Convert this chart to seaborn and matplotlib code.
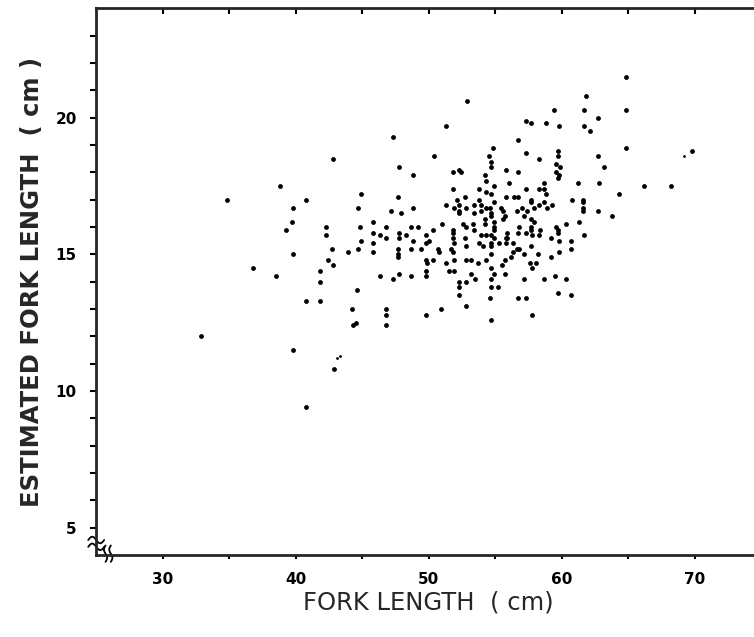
import matplotlib
matplotlib.use("Agg")
import matplotlib.pyplot as plt
import numpy as np
import seaborn as sns

# fork length (cm) vs estimated fork length (cm)
fork_length = [
    52.9, 51.3, 47.3, 42.8, 50.4, 47.8, 48.8, 54.8, 56.7, 54.5, 54.7, 54.7, 55.8, 56.7,
    52.3, 51.8, 52.4, 54.2, 54.3, 56.0, 54.9, 53.8, 54.3, 51.8, 54.7, 44.9, 52.7, 47.7,
    40.8, 55.8, 56.4, 56.7, 53.8, 52.1, 38.8, 34.8,
    64.8, 61.8, 59.4, 61.7, 64.8, 62.7, 57.3, 57.7, 58.8, 59.8, 61.7, 62.1, 57.3, 58.3,
    59.7, 59.7, 59.6, 59.9, 59.6, 59.8, 59.7, 62.7, 63.2, 64.8, 57.3, 58.3, 58.7, 58.7,
    58.8, 61.2, 62.8, 64.3, 66.2, 68.2, 69.8, 60.8, 61.6, 57.7,
    39.8, 39.7, 39.3, 39.8, 36.8, 38.5, 40.8, 32.9, 39.8,
    44.7, 47.2, 47.9, 48.8, 51.3, 51.9, 52.3, 52.3, 52.3, 52.8, 53.4, 53.4, 53.9, 53.9,
    54.3, 54.6, 54.7, 54.7, 54.9, 55.4, 55.6, 55.7, 55.6, 56.6, 54.2, 54.2, 54.9, 54.9,
    54.9, 42.3, 42.3, 44.8, 45.8, 46.8, 48.7, 49.2, 51.0, 51.8, 51.8, 51.8, 52.6, 52.8,
    53.3, 53.4, 53.9, 54.3, 54.7, 54.9, 55.9, 55.9, 56.7, 45.8, 46.3, 46.8, 47.8, 47.8,
    48.3, 48.8, 49.8, 50.3, 49.8, 50.0, 44.9, 42.7, 43.9, 44.7, 45.8, 45.8, 47.7, 47.7,
    47.7, 48.7, 49.4, 50.7, 50.8, 51.7, 51.8, 51.9, 51.9, 52.7, 52.8, 53.8, 54.1, 54.7,
    54.7, 54.7, 55.3, 55.8, 55.8, 56.3, 56.3, 56.6, 42.4, 42.8, 49.8, 49.9, 50.3, 51.3,
    52.8, 53.2, 53.7, 54.3, 54.7, 54.9, 55.5, 55.7, 55.7, 41.8, 41.8, 46.3, 47.3, 47.8,
    48.7, 49.8, 49.8, 51.5, 51.9, 52.3, 52.3, 52.3, 52.8, 53.2, 53.5, 54.7, 54.7, 55.2,
    54.6, 56.7, 44.6, 41.8, 44.2, 46.8, 46.8, 46.8, 44.5, 44.3, 49.8, 50.9, 52.8, 54.7,
    42.9,
    61.6, 61.6, 61.6, 62.7, 63.8, 57.0, 57.4, 57.7, 57.9, 58.3, 58.7, 58.9, 59.3, 57.2,
    57.7, 57.9, 56.8, 57.7, 57.7, 57.8, 58.4, 58.3, 59.6, 59.7, 59.7, 60.3, 61.3, 61.7,
    57.3, 56.8, 57.7, 57.2, 58.2, 59.2, 59.8, 60.7, 59.8, 60.7, 59.2, 56.2, 57.6, 58.1,
    57.8, 57.2, 58.7, 59.5, 60.3, 59.7, 60.7, 57.3, 57.8,
    40.8,
]
est_fork_length = [
    20.6, 19.7, 19.3, 18.5, 18.6, 18.2, 17.9, 18.9, 19.2, 18.6, 18.4, 18.2, 18.1, 18.0,
    18.1, 18.0, 18.0, 17.9, 17.7, 17.6, 17.5, 17.4, 17.3, 17.4, 17.2, 17.2, 17.1, 17.1,
    17.0, 17.1, 17.1, 17.1, 17.0, 17.0, 17.5, 17.0,
    21.5, 20.8, 20.3, 20.3, 20.3, 20.0, 19.9, 19.8, 19.8, 19.7, 19.7, 19.5, 18.7, 18.5,
    18.8, 18.6, 18.3, 18.2, 18.0, 17.9, 17.8, 18.6, 18.2, 18.9, 17.4, 17.4, 17.6, 17.4,
    17.2, 17.6, 17.6, 17.2, 17.5, 17.5, 18.8, 17.0, 17.0, 17.0,
    16.7, 16.2, 15.9, 15.0, 14.5, 14.2, 13.3, 12.0, 11.5,
    16.7, 16.6, 16.5, 16.7, 16.8, 16.7, 16.8, 16.6, 16.5, 16.7, 16.8, 16.5, 16.8, 16.6,
    16.7, 16.7, 16.5, 16.4, 16.9, 16.7, 16.6, 16.4, 16.3, 16.6, 16.3, 16.1, 16.2, 16.0,
    15.9, 16.0, 15.7, 16.0, 16.2, 16.0, 16.0, 16.0, 16.1, 15.9, 15.8, 15.6, 16.1, 16.0,
    16.1, 15.9, 15.7, 15.7, 15.7, 15.6, 15.8, 15.6, 15.8, 15.8, 15.7, 15.6, 15.8, 15.6,
    15.7, 15.5, 15.7, 15.9, 15.4, 15.5, 15.5, 15.2, 15.1, 15.2, 15.4, 15.1, 15.2, 15.0,
    14.9, 15.2, 15.2, 15.2, 15.1, 15.2, 15.1, 14.8, 15.4, 15.6, 15.3, 15.4, 15.3, 15.4,
    15.3, 15.0, 15.4, 15.6, 15.4, 15.4, 15.1, 15.2, 14.8, 14.6, 14.8, 14.7, 14.8, 14.7,
    14.8, 14.8, 14.7, 14.8, 14.5, 14.3, 14.6, 14.8, 14.3, 14.4, 14.0, 14.2, 14.1, 14.3,
    14.2, 14.4, 14.2, 14.4, 14.4, 14.0, 13.8, 13.5, 14.0, 14.3, 14.1, 14.1, 13.8, 13.8,
    13.4, 13.4, 13.7, 13.3, 13.0, 13.0, 12.8, 12.4, 12.5, 12.4, 12.8, 13.0, 13.1, 12.6,
    10.8,
    16.9, 16.7, 16.6, 16.6, 16.4, 16.7, 16.6, 16.9, 16.7, 16.8, 16.9, 16.7, 16.8, 16.4,
    16.3, 16.2, 16.0, 16.0, 15.9, 15.7, 15.9, 15.7, 16.0, 15.9, 15.8, 16.1, 16.2, 15.7,
    15.8, 15.2, 15.3, 15.0, 15.0, 15.6, 15.5, 15.5, 15.1, 15.2, 14.9, 14.9, 14.7, 14.7,
    14.5, 14.1, 14.1, 14.2, 14.1, 13.6, 13.5, 13.4, 12.8,
    9.4,
]
# faint, smaller specks in the scan
faint_x = [43.3, 43.1, 69.2]
faint_y = [11.3, 11.2, 18.6]

sns.set_style("ticks")
plt.rcParams["font.family"] = ["DejaVu Sans"]

fig = plt.figure(figsize=(7.54, 6.37), dpi=100)
ax = fig.add_axes([0.1276, 0.1287, 0.882, 0.858])

sns.scatterplot(x=fork_length, y=est_fork_length, ax=ax, color="black",
                s=12, linewidth=0, legend=False)
sns.scatterplot(x=faint_x, y=faint_y, ax=ax, color="black",
                s=4, linewidth=0, legend=False)

ax.set_xlim(25, 75)
ax.set_ylim(4, 24)

ax.set_xticks(np.arange(30, 75, 10))
ax.set_xticks(np.arange(35, 75, 10), minor=True)
ax.set_yticks([5, 10, 15, 20])
ax.set_yticks([y for y in range(5, 24) if y % 5], minor=True)

ax.tick_params(axis="both", which="both", colors="black", width=1.5)
ax.tick_params(axis="x", which="both", direction="out", length=3, pad=9,
               top=True, labelsize=11)
ax.tick_params(axis="y", which="both", direction="out", length=4, pad=10,
               right=True, labelsize=11)
for lab in ax.get_xticklabels() + ax.get_yticklabels():
    lab.set_fontweight("bold")

# top and right ticks point inward like the original frame
for t in ax.xaxis.get_major_ticks() + ax.xaxis.get_minor_ticks():
    t.tick2line.set_marker(3)
    t.tick2line.set_markersize(4)
for t in ax.yaxis.get_major_ticks() + ax.yaxis.get_minor_ticks():
    t.tick2line.set_marker(1)
    t.tick2line.set_markersize(7)
    t.tick2line.set_color("#888888")
    t.tick2line.set_markeredgewidth(1)

for side in ["left", "bottom", "top"]:
    ax.spines[side].set_linewidth(2)
ax.spines["right"].set_visible(False)

ax.set_xlabel("FORK LENGTH  ( cm)", fontsize=17.5, labelpad=3)
ax.set_ylabel("ESTIMATED FORK LENGTH  ( cm )", fontsize=17.5,
              fontweight="bold", labelpad=8)

# axis break marks at the origin
s = np.linspace(0, 1, 30)
ax.plot(25 - 0.6 + 1.2 * s, 4.55 + 0.12 * np.sin(2 * np.pi * s), color="black",
        lw=1.3, clip_on=False)
ax.plot(25 - 0.6 + 1.2 * s, 4.3 + 0.12 * np.sin(2 * np.pi * s), color="black",
        lw=1.3, clip_on=False)
ax.plot(25.7 + 0.12 * np.sin(2 * np.pi * s), 3.75 + 0.6 * s, color="black",
        lw=1.3, clip_on=False)
ax.plot(26.1 + 0.12 * np.sin(2 * np.pi * s), 3.75 + 0.6 * s, color="black",
        lw=1.3, clip_on=False)

fig.savefig("out.png", dpi=100)
